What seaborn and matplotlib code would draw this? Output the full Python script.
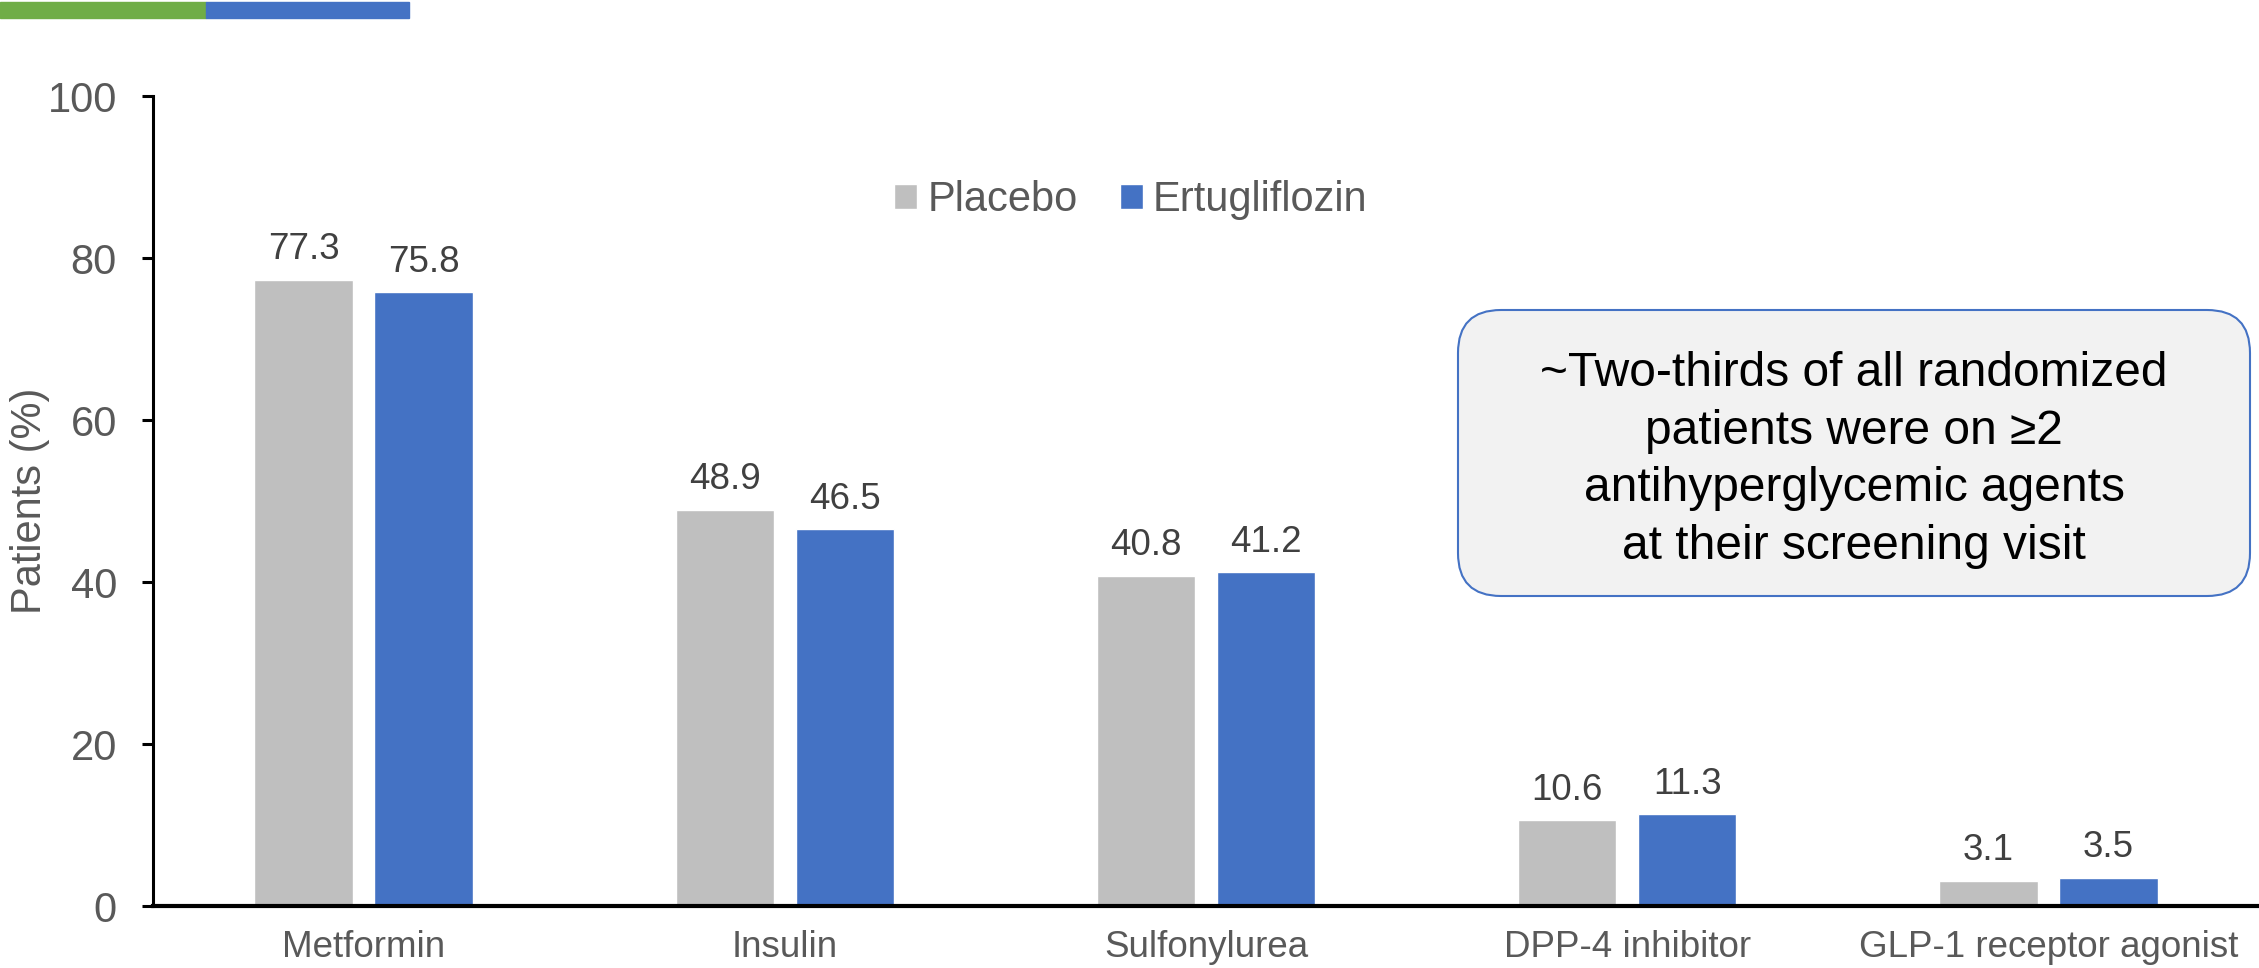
import pandas as pd
import seaborn as sns
import matplotlib.pyplot as plt
from matplotlib.patches import FancyBboxPatch, Rectangle

# data
agents = ["Metformin", "Insulin", "Sulfonylurea", "DPP-4 inhibitor", "GLP-1 receptor agonist"]
placebo = [77.3, 48.9, 40.8, 10.6, 3.1]
ertugliflozin = [75.8, 46.5, 41.2, 11.3, 3.5]
groups = ["Placebo", "Ertugliflozin"]
yticks = [0, 20, 40, 60, 80, 100]

df = pd.DataFrame({
    "agent": agents * 2,
    "pct": placebo + ertugliflozin,
    "group": [groups[0]] * len(agents) + [groups[1]] * len(agents),
})

sns.set_style("white")
plt.rcParams["font.family"] = ["Liberation Sans", "DejaVu Sans"]

fig = plt.figure(figsize=(22.59, 9.68), dpi=100)
ax = fig.add_axes([153 / 2259, 1 - 906 / 968, 1 - 153 / 2259, 810 / 968])

sns.barplot(data=df, x="agent", y="pct", hue="group", order=agents, hue_order=groups,
            palette=["#BFBFBF", "#4472C4"], width=0.57, gap=0.18, errorbar=None,
            saturation=1, ax=ax)

for c in ax.containers:
    ax.bar_label(c, fmt="%.1f", padding=9, fontsize=26.5, color="#404040")

ax.set_xlim(-0.5, 4.5)
ax.set_ylim(0, 100)
ax.set_yticks(yticks)
ax.set_xlabel("")
ax.set_ylabel("Patients (%)", fontsize=30, color="#595959")
ax.yaxis.set_label_coords(-0.049, 0.5)

ax.tick_params(axis="y", direction="out", length=8, width=2.2, color="black",
               pad=18, labelsize=30, labelcolor="#595959", left=True)
ax.tick_params(axis="x", length=0, pad=17, labelsize=26.5, labelcolor="#595959")

for s in ["top", "right"]:
    ax.spines[s].set_visible(False)
ax.spines["left"].set_linewidth(2.2)
ax.spines["left"].set_color("black")
ax.spines["bottom"].set_linewidth(3)
ax.spines["bottom"].set_color("black")

ax.legend(loc="center", bbox_to_anchor=(1131 / 2259, 1 - 200 / 968),
          bbox_transform=fig.transFigure, ncol=2, frameon=False, fontsize=30,
          handlelength=0.55, handleheight=0.55, handletextpad=0.25,
          columnspacing=1.0, labelcolor="#595959")

# callout box
box = FancyBboxPatch((14.58, 3.72), 7.92, 2.86, boxstyle="round,pad=0,rounding_size=0.43",
                     transform=fig.dpi_scale_trans, facecolor="#F2F2F2",
                     edgecolor="#4472C4", linewidth=1.5)
fig.patches.append(box)
fig.text(18.54, 5.08,
         "~Two-thirds of all randomized\npatients were on \u22652\nantihyperglycemic agents\nat their screening visit",
         transform=fig.dpi_scale_trans, ha="center", va="center", fontsize=34.5,
         linespacing=1.36, color="black")

# header strip
fig.patches.append(Rectangle((0, 1 - 18 / 968), 206 / 2259, 16 / 968,
                             transform=fig.transFigure, color="#70AD47"))
fig.patches.append(Rectangle((206 / 2259, 1 - 18 / 968), 203 / 2259, 16 / 968,
                             transform=fig.transFigure, color="#4472C4"))

fig.savefig("out.png", dpi=100)
